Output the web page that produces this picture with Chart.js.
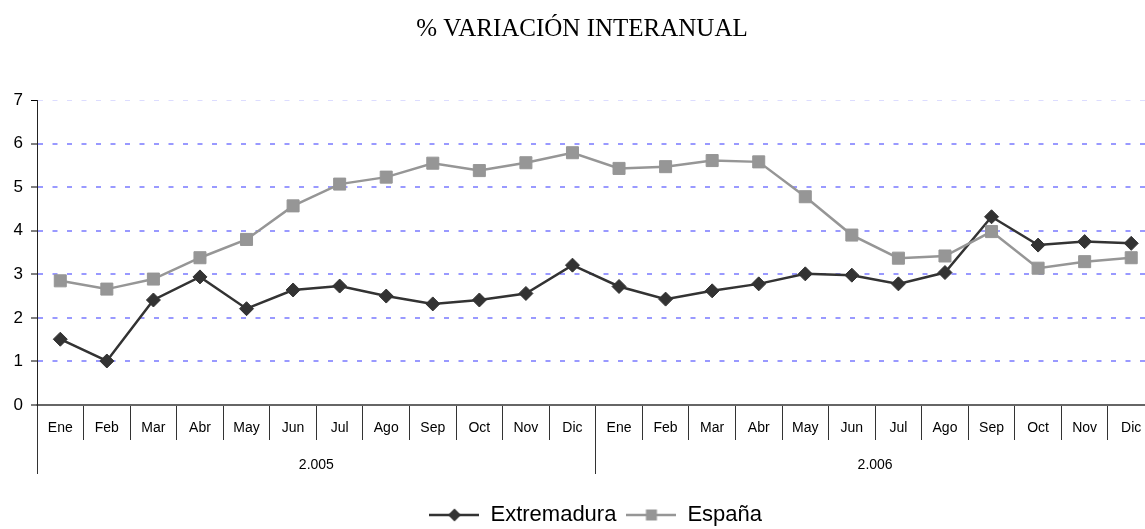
<!DOCTYPE html>
<html>
<head>
<meta charset="utf-8">
<title>% VARIACIÓN INTERANUAL</title>
<script src="https://cdn.jsdelivr.net/npm/chart.js@4"></script>
<style>
    html, body { margin: 0; padding: 0; background: #fff; overflow: hidden; }
    #wrap { width: 1164px; height: 536px; }
</style>
</head>
<body>
<div id="wrap"><canvas id="chart" width="1164" height="536"></canvas></div>
<script>
// Data
const months = ['Ene', 'Feb', 'Mar', 'Abr', 'May', 'Jun', 'Jul', 'Ago', 'Sep', 'Oct', 'Nov', 'Dic',
                'Ene', 'Feb', 'Mar', 'Abr', 'May', 'Jun', 'Jul', 'Ago', 'Sep', 'Oct', 'Nov', 'Dic'];
const years = ['2.005', '2.006'];
const extremadura = [1.51, 1.01, 2.41, 2.94, 2.21, 2.64, 2.73, 2.50, 2.32, 2.41, 2.56, 3.21,
                     2.72, 2.43, 2.62, 2.78, 3.01, 2.98, 2.78, 3.04, 4.32, 3.67, 3.75, 3.71];
const espana = [2.85, 2.66, 2.89, 3.38, 3.80, 4.57, 5.07, 5.23, 5.55, 5.38, 5.56, 5.79,
                5.43, 5.47, 5.61, 5.58, 4.78, 3.90, 3.37, 3.42, 3.98, 3.14, 3.29, 3.38];
const yMin = 0;
const yMax = 7;

const sansFont = "'Liberation Sans', Arial, sans-serif";
const serifFont = "'Liberation Serif', 'Times New Roman', serif";

// Little line + marker picture used in the legend
function legendIcon(color, shape) {
    const c = document.createElement('canvas');
    c.width = 50;
    c.height = 16;
    const g = c.getContext('2d');
    g.strokeStyle = color;
    g.fillStyle = color;
    g.lineWidth = 2.5;
    g.beginPath();
    g.moveTo(0, 8);
    g.lineTo(50, 8);
    g.stroke();
    g.beginPath();
    if (shape === 'diamond') {
        g.moveTo(25, 1.5);
        g.lineTo(31.5, 8);
        g.lineTo(25, 14.5);
        g.lineTo(18.5, 8);
    } else {
        g.rect(19.5, 2.5, 11, 11);
    }
    g.closePath();
    g.fill();
    return c;
}

function setupChart() {
    const ctx = document.getElementById('chart').getContext('2d');

    const icons = [legendIcon('#333333', 'diamond'), legendIcon('#969696', 'square')];

    new Chart(ctx, {
        type: 'line',
        data: {
            labels: months,
            datasets: [{
                label: 'Extremadura',
                data: extremadura,
                borderColor: '#333333',
                backgroundColor: '#333333',
                borderWidth: 2.5,
                pointStyle: 'rectRot',
                pointRadius: 7,
                pointBorderWidth: 1,
                tension: 0,
                order: 1,
                xAxisID: 'x'
            }, {
                label: 'España',
                data: espana,
                borderColor: '#969696',
                backgroundColor: '#969696',
                borderWidth: 2.5,
                pointStyle: 'rect',
                pointRadius: 8.5,
                pointBorderWidth: 1,
                tension: 0,
                order: 0,
                xAxisID: 'x'
            }]
        },
        options: {
            responsive: false,
            animation: false,
            events: [],
            layout: {
                padding: { left: 8.4, right: 8.4, top: 0, bottom: 0 }
            },
            scales: {
                x: {
                    type: 'category',
                    position: 'bottom',
                    offset: true,
                    grid: {
                        offset: true,
                        drawOnChartArea: false,
                        tickLength: 35,
                        tickColor: '#333',
                        tickWidth: 1
                    },
                    border: { display: true, color: '#666', width: 2 },
                    ticks: {
                        autoSkip: false,
                        maxRotation: 0,
                        padding: -19.9,
                        color: '#000',
                        font: { family: sansFont, size: 14 }
                    },
                    afterFit: function(scale) { scale.height = 32; }
                },
                x2: {
                    type: 'category',
                    labels: years,
                    position: 'bottom',
                    weight: 1,
                    offset: true,
                    grid: {
                        offset: true,
                        drawOnChartArea: false,
                        tickLength: 37,
                        tickColor: '#333',
                        tickWidth: 1
                    },
                    border: { display: false },
                    ticks: {
                        autoSkip: false,
                        maxRotation: 0,
                        padding: -17.4,
                        color: '#000',
                        font: { family: sansFont, size: 14 }
                    },
                    afterFit: function(scale) { scale.height = 57; }
                },
                y: {
                    min: yMin,
                    max: yMax,
                    grid: {
                        color: function(c) {
                            if (c.tick.value === 0) return 'rgba(0,0,0,0)';
                            if (c.tick.value === 7) return '#dcdcff';
                            return '#9999ff';
                        },
                        lineWidth: function(c) {
                            return c.tick.value === 7 ? 1 : 2;
                        },
                        tickLength: 6,
                        tickColor: '#000',
                        tickWidth: 1
                    },
                    // in v4 the dash of the grid lines lives under border
                    border: { display: true, color: '#222', width: 1, dash: [5, 9.5] },
                    ticks: {
                        stepSize: 1,
                        padding: 8,
                        color: '#000',
                        font: { family: sansFont, size: 17 }
                    },
                    afterFit: function(scale) { scale.width = 28.6; }
                }
            },
            plugins: {
                title: {
                    display: true,
                    text: '% VARIACIÓN INTERANUAL',
                    color: '#000',
                    font: { family: serifFont, size: 25, weight: 'normal' },
                    padding: { top: 14, bottom: 56 }
                },
                legend: {
                    display: true,
                    position: 'bottom',
                    fullSize: false,
                    labels: {
                        usePointStyle: true,
                        pointStyleWidth: 50,
                        padding: 10,
                        color: '#000',
                        font: { family: sansFont, size: 22 },
                        generateLabels: function(chart) {
                            return chart.data.datasets.map(function(ds, i) {
                                return {
                                    text: ds.label,
                                    pointStyle: icons[i],
                                    fillStyle: ds.backgroundColor,
                                    strokeStyle: ds.borderColor,
                                    lineWidth: 0,
                                    hidden: false,
                                    datasetIndex: i
                                };
                            });
                        }
                    }
                },
                tooltip: { enabled: false }
            }
        }
    });
}

document.addEventListener('DOMContentLoaded', function() {
    setupChart();
});
</script>
</body>
</html>
